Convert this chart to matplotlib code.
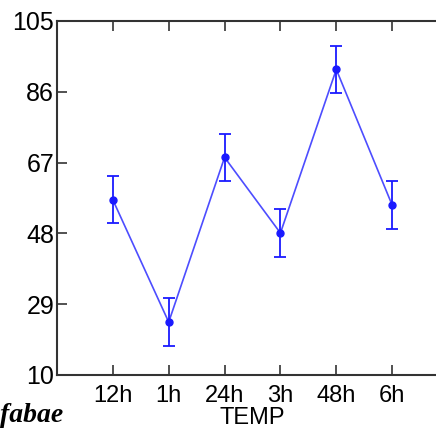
import matplotlib.pyplot as plt
import numpy as np

plt.rcParams["font.family"] = ["Liberation Sans", "DejaVu Sans"]

# group means and error half-widths per time point
times = ["12h", "1h", "24h", "3h", "48h", "6h"]
means = [57.0, 24.2, 68.4, 48.1, 92.0, 55.6]
errors = [6.3, 6.4, 6.3, 6.4, 6.4, 6.4]
yticks = [10, 29, 48, 67, 86, 105]

fig = plt.figure(figsize=(4.36, 4.32), dpi=100)
ax = fig.add_axes([57 / 436, 57 / 432, 391 / 436, 354 / 432])

x = np.arange(1, len(times) + 1)
ax.plot(x, means, color="#4d4dff", linewidth=1.2, zorder=2)
ax.errorbar(x, means, yerr=errors, fmt="o", color="#1a1aff", ecolor="#1a1aff",
            markersize=5, elinewidth=1.3, capsize=4, capthick=1.3, zorder=3)

ax.set_xlim(0, 7)
ax.set_ylim(10, 105)
ax.set_xticks(x)
ax.set_xticklabels(times)
ax.set_yticks(yticks)
ax.tick_params(direction="in", length=7, width=1.2, labelsize=18, color="#333333",
               top=True, right=True)
ax.tick_params(axis="x", pad=7, labelsize=17)
ax.tick_params(axis="y", pad=2)
for sp in ax.spines.values():
    sp.set_color("#333333")
    sp.set_linewidth(1.5)
ax.set_xlabel("TEMP", fontsize=17, labelpad=0)

fig.text(0.0, 0.022, "fabae", fontsize=20, fontweight="bold", fontstyle="italic",
         family=["Liberation Serif", "DejaVu Serif"])

fig.savefig("out.png", dpi=100)
